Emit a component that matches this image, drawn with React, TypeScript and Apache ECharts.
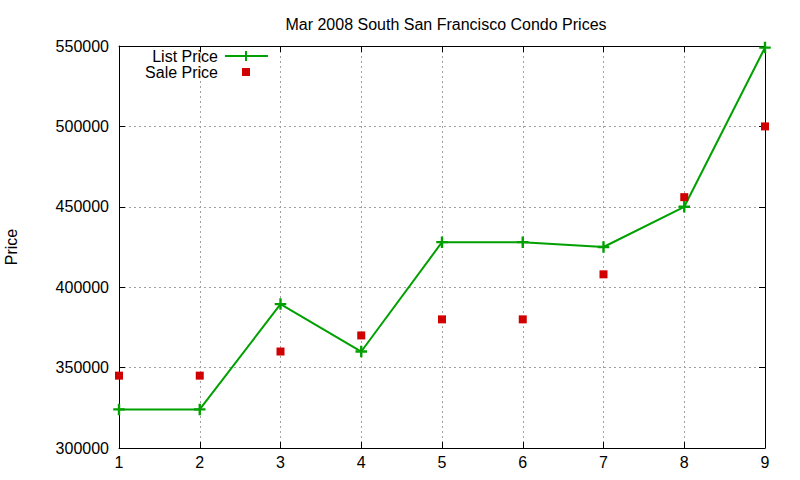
import React, { useEffect, useRef } from "react";
import * as echarts from "echarts";

const xValues = [1, 2, 3, 4, 5, 6, 7, 8, 9];
const listPrice = [324000, 324000, 389500, 360000, 428000, 428000, 425000, 450000, 549000];
const salePrice = [345000, 345000, 360000, 370000, 380000, 380000, 408000, 456000, 500000];
const yTicks = { min: 300000, max: 550000, interval: 50000 };

const GREEN = "#00a000";
const RED = "#d00000";
const FONT = "Liberation Sans, Arial, sans-serif";
const PLUS = "path://M0,4.1H9V4.9H0Z M4.1,0H4.9V9H4.1Z";

export default function App() {
  const ref = useRef<HTMLDivElement>(null);
  useEffect(() => {
    if (!ref.current) return;
    const chart = echarts.init(ref.current, undefined, { renderer: "svg" });
    const axisCommon = {
      axisLine: { show: true, lineStyle: { color: "#000", width: 1 } },
      axisTick: { show: true, inside: true, length: 6, lineStyle: { color: "#000" } },
    };
    chart.setOption({
      animation: false,
      backgroundColor: "#fff",
      title: {
        text: "Mar 2008 South San Francisco Condo Prices",
        left: 441,
        top: 11,
        textAlign: "center",
        textStyle: { fontFamily: FONT, fontSize: 16, fontWeight: "normal", color: "#000" },
      },
      grid: { left: 119, right: 35, top: 46, bottom: 32, show: false, containLabel: false, outerBoundsMode: "none" },
      xAxis: [
        {
          type: "value",
          min: 1,
          max: 9,
          interval: 1,
          ...axisCommon,
          axisLabel: { fontFamily: FONT, fontSize: 16, color: "#000", margin: 6 },
          splitLine: { show: true, lineStyle: { color: "#a0a0a0", type: [2, 3], width: 1 } },
        },
        {
          type: "value",
          position: "top",
          min: 1,
          max: 9,
          interval: 1,
          ...axisCommon,
          axisLabel: { show: false },
          splitLine: { show: false },
        },
      ],
      yAxis: [
        {
          type: "value",
          min: yTicks.min,
          max: yTicks.max,
          interval: yTicks.interval,
          ...axisCommon,
          name: "Price",
          nameLocation: "middle",
          nameRotate: 90,
          nameGap: 100,
          nameTextStyle: { fontFamily: FONT, fontSize: 16, color: "#000" },
          axisLabel: { fontFamily: FONT, fontSize: 16, color: "#000", margin: 10, formatter: (v: number) => String(v) },
          splitLine: { show: true, lineStyle: { color: "#a0a0a0", type: [2, 3], width: 1 } },
        },
        {
          type: "value",
          position: "right",
          min: yTicks.min,
          max: yTicks.max,
          interval: yTicks.interval,
          ...axisCommon,
          axisLabel: { show: false },
          splitLine: { show: false },
        },
      ],
      series: [
        {
          name: "List Price",
          type: "line",
          data: xValues.map((x, i) => [x, listPrice[i]]),
          lineStyle: { color: GREEN, width: 2 },
          itemStyle: { color: GREEN, borderColor: GREEN, borderWidth: 1.5 },
          symbol: PLUS,
          symbolSize: 10,
          showAllSymbol: true,
          z: 3,
        },
        {
          name: "Sale Price",
          type: "scatter",
          data: xValues.map((x, i) => [x, salePrice[i]]),
          itemStyle: { color: RED, opacity: 1 },
          symbol: "rect",
          symbolSize: 8,
          z: 4,
        },
      ],
      graphic: [
        {
          type: "text",
          x: 218,
          y: 56,
          style: { text: "List Price", fontFamily: FONT, fontSize: 16, fill: "#000", align: "right", verticalAlign: "middle" },
        },
        {
          type: "line",
          shape: { x1: 225, y1: 56, x2: 268, y2: 56 },
          style: { stroke: GREEN, lineWidth: 2 },
        },
        {
          type: "line",
          shape: { x1: 246, y1: 51, x2: 246, y2: 61 },
          style: { stroke: GREEN, lineWidth: 2 },
        },
        {
          type: "text",
          x: 218,
          y: 72,
          style: { text: "Sale Price", fontFamily: FONT, fontSize: 16, fill: "#000", align: "right", verticalAlign: "middle" },
        },
        {
          type: "rect",
          shape: { x: 242, y: 68, width: 8, height: 8 },
          style: { fill: RED },
        },
      ],
    });
    return () => chart.dispose();
  }, []);
  return <div ref={ref} style={{ width: 800, height: 480, position: "absolute", left: 0, top: 0 }} />;
}
